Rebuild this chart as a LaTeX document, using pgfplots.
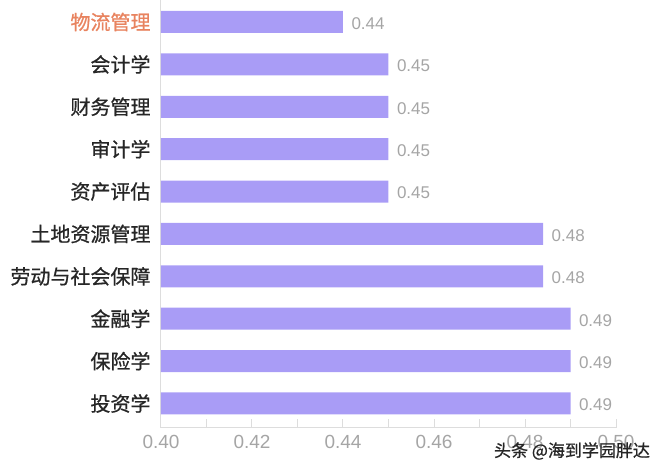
\documentclass[border=0pt]{standalone}
\usepackage{pgfplots}
\pgfplotsset{compat=1.18}
\usepackage{fontspec}
\setmainfont{Liberation Sans}
\newfontfamily\cjk{Noto Sans CJK SC}
\newfontfamily\cjkm[FakeBold=0.8]{Noto Sans CJK SC}
\definecolor{barc}{HTML}{A99CF6}
\definecolor{orangel}{HTML}{E8835F}
\definecolor{gridc}{HTML}{DDDDDD}
\definecolor{numc}{HTML}{A5A5A5}
\begin{document}
\begin{tikzpicture}[x=1pt,y=1pt]
\useasboundingbox (0,0) rectangle (662,474);
\begin{axis}[
  at={(161pt,46pt)}, anchor=south west,
  scale only axis, width=455pt, height=428pt,
  xbar, bar width=22pt,
  xmin=0.40, xmax=0.50,
  ymin=-0.578, ymax=9.519,
  axis x line=bottom, axis y line=left,
  axis line style={gridc, line width=1pt, -},
  xtick={0.40,0.42,0.44,0.46,0.48,0.50},
  xticklabels={0.40,0.42,0.44,0.46,0.48,0.50},
  minor xtick={0.41,0.43,0.45,0.47,0.49},
  tick align=inside,
  major tick length=9pt, minor tick length=9pt,
  x tick style={gridc, line width=1pt},
  xticklabel style={font=\fontsize{19}{19}\selectfont, text=numc, yshift=-4pt},
  ytick={0,1,2,3,4,5,6,7,8,9},
  yticklabels={投资学,保险学,金融学,劳动与社会保障,土地资源管理,资产评估,审计学,财务管理,会计学,\textcolor{orangel}{物流管理}},
  y tick style={draw=none},
  yticklabel style={font=\cjkm\fontsize{20}{20}\selectfont, text=black!85, xshift=-7pt},
  nodes near coords={\pgfmathprintnumber[fixed,fixed zerofill,precision=2,assume math mode=true]{\pgfplotspointmeta}},
  nodes near coords style={font=\fontsize{17}{17}\selectfont, text=numc, anchor=west, xshift=5pt, yshift=-1.5pt},
]
\addplot[fill=barc, draw=none] coordinates {
  (0.49,0) (0.49,1) (0.49,2) (0.484,3) (0.484,4)
  (0.45,5) (0.45,6) (0.45,7) (0.45,8) (0.44,9)
};
\end{axis}
\node[font=\cjkm\fontsize{17}{17}\selectfont, text=black!85] at (572,23) {头条 @海到学园胖达};
\end{tikzpicture}
\end{document}
